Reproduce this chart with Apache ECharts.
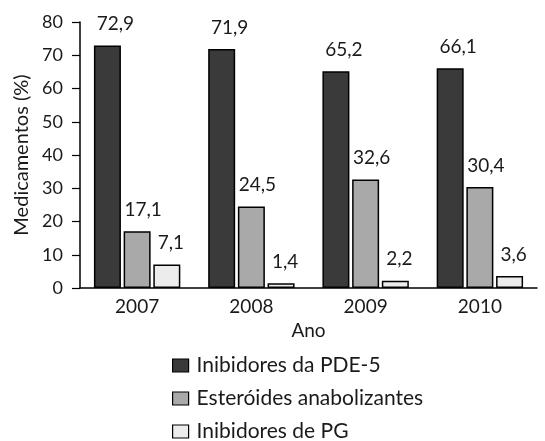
<!DOCTYPE html>
<html>
<head>
<meta charset="utf-8">
<script src="https://cdn.jsdelivr.net/npm/echarts@6/dist/echarts.min.js"></script>
<style>
html,body{margin:0;padding:0;background:#fff;}
#chart{width:545px;height:441px;}
</style>
</head>
<body>
<div id="chart"></div>
<script>
const categories = ['2007', '2008', '2009', '2010'];
const seriesNames = ['Inibidores da PDE-5', 'Esteróides anabolizantes', 'Inibidores de PG'];
const pde5 = [72.9, 71.9, 65.2, 66.1];
const esteroides = [17.1, 24.5, 32.6, 30.4];
const pg = [7.1, 1.4, 2.2, 3.6];
const yTicks = [0, 10, 20, 30, 40, 50, 60, 70, 80];

const FONT = 'Lato';
const TXT = '#1a1a1a';
const colors = ['#3a3a3a', '#a9a9a9', '#ececec'];
const labelOffsets = [[8, 0], [6, 0], [4, 0]];

function mkSeries(name, data, i) {
  return {
    name: name,
    type: 'bar',
    data: data,
    barWidth: 27,
    barGap: '10%',
    itemStyle: { color: colors[i], borderColor: '#000', borderWidth: 1.5 },
    label: {
      show: true,
      position: 'top',
      distance: 12,
      offset: labelOffsets[i],
      fontFamily: FONT,
      fontSize: 19,
      color: TXT,
      formatter: p => String(p.value).replace('.', ',')
    }
  };
}

const chart = echarts.init(document.getElementById('chart'));
chart.setOption({
  animation: false,
  backgroundColor: '#fff',
  textStyle: { fontFamily: FONT },
  grid: { left: 80, top: 22, right: 8, bottom: 153 },
  legend: {
    orient: 'vertical',
    left: 167,
    top: 350,
    height: 120,
    itemWidth: 16,
    itemHeight: 13,
    itemGap: 12,
    icon: 'rect',
    data: seriesNames,
    itemStyle: { borderColor: '#000', borderWidth: 1.2 },
    textStyle: { fontFamily: FONT, fontSize: 21, color: TXT, padding: [0, 0, 0, 3] }
  },
  xAxis: {
    type: 'category',
    data: categories,
    name: 'Ano',
    nameLocation: 'middle',
    nameGap: 31,
    nameTextStyle: { fontFamily: FONT, fontSize: 19, color: TXT },
    axisLine: { lineStyle: { color: '#000', width: 1.5 } },
    axisTick: { show: false },
    axisLabel: { fontFamily: FONT, fontSize: 19, color: TXT, margin: 9 }
  },
  yAxis: {
    type: 'value',
    min: yTicks[0],
    max: yTicks[yTicks.length - 1],
    interval: 10,
    name: 'Medicamentos (%)',
    nameLocation: 'middle',
    nameGap: 47,
    nameTextStyle: { fontFamily: FONT, fontSize: 20, color: TXT },
    axisLine: { show: true, lineStyle: { color: '#000', width: 1.5 } },
    axisTick: { show: true, length: 8, lineStyle: { color: '#000', width: 1.2 } },
    axisLabel: { fontFamily: FONT, fontSize: 18, color: TXT, margin: 17 },
    splitLine: { show: false }
  },
  series: [
    mkSeries(seriesNames[0], pde5, 0),
    mkSeries(seriesNames[1], esteroides, 1),
    mkSeries(seriesNames[2], pg, 2)
  ]
});
</script>
</body>
</html>
